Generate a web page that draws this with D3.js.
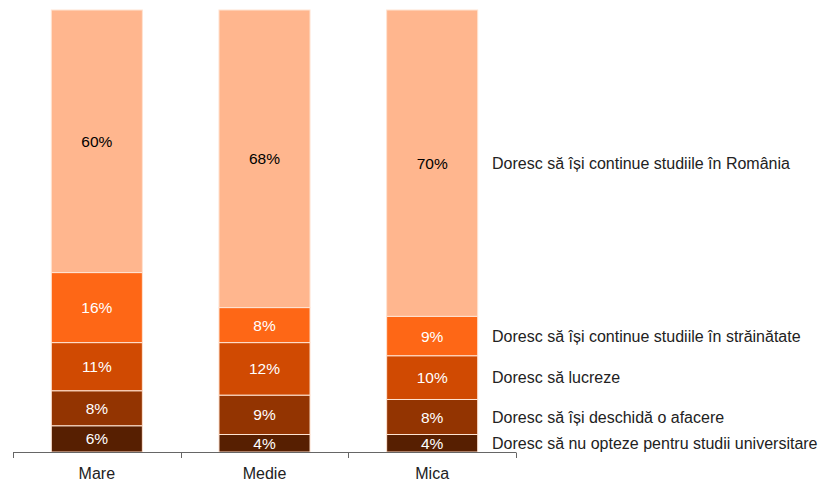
<!DOCTYPE html>
<html>
<head>
<meta charset="utf-8">
<script src="https://cdn.jsdelivr.net/npm/d3@7"></script>
<style>
  body { margin: 0; background: #fff; }
  text { font-family: "Liberation Sans", Arial, sans-serif; }
</style>
</head>
<body>
<div id="chart"></div>
<script>
// categories (x axis)
var categories = ['Mare', 'Medie', 'Mica'];
// series, bottom to top
var seriesNames = [
	'Doresc să nu opteze pentru studii universitare',
	'Doresc să își deschidă o afacere',
	'Doresc să lucreze',
	'Doresc să își continue studiile în străinătate',
	'Doresc să își continue studiile în România'
];
var noStudies  = [6, 4, 4];
var business   = [8, 9, 8];
var work       = [11, 12, 10];
var abroad     = [16, 8, 9];
var romania    = [60, 68, 70];
var colors = ['#571F01', '#933401', '#D04A02', '#FE6716', '#FFB68E'];
var labelColors = ['#fff', '#fff', '#fff', '#fff', '#000'];

var w = 818, h = 481;
var plotLeft = 13, plotRight = 516, plotTop = 10, plotBottom = 452;

var rows = categories.map(function(c, i) {
	return { cat: c, s0: noStudies[i], s1: business[i], s2: work[i], s3: abroad[i], s4: romania[i] };
});
var keys = ['s0', 's1', 's2', 's3', 's4'];

var stack = d3.stack().keys(keys).offset(d3.stackOffsetExpand);
var layers = stack(rows);

var x = d3.scaleBand()
	.domain(categories)
	.range([plotLeft, plotRight])
	.paddingInner(0.457)
	.paddingOuter(0.2285);
var y = d3.scaleLinear().domain([0, 1]).range([plotBottom, plotTop]);

var svg = d3.select('#chart').append('svg')
	.attr('width', w)
	.attr('height', h);

var groups = svg.selectAll('.layer')
	.data(layers)
	.enter()
	.append('g')
	.attr('class', 'layer')
	.attr('fill', function(d, i) { return colors[i]; });

groups.selectAll('rect')
	.data(function(d) { return d; })
	.enter()
	.append('rect')
	.attr('x', function(d) { return x(d.data.cat); })
	.attr('width', x.bandwidth())
	.attr('y', function(d) { return y(d[1]); })
	.attr('height', function(d) { return y(d[0]) - y(d[1]); })
	.attr('stroke', '#FFE3D2')
	.attr('stroke-width', 1);

groups.each(function(layer, li) {
	d3.select(this).selectAll('.val')
		.data(layer)
		.enter()
		.append('text')
		.attr('class', 'val')
		.attr('x', function(d) { return x(d.data.cat) + x.bandwidth() / 2; })
		.attr('y', function(d) { return (y(d[0]) + y(d[1])) / 2; })
		.attr('dy', '0.36em')
		.attr('text-anchor', 'middle')
		.attr('fill', labelColors[li])
		.style('font-size', '15.5px')
		.text(function(d) { return d.data[layer.key] + '%'; });
});

// legend labels next to the last bar
var lastCat = categories[categories.length - 1];
svg.selectAll('.legend')
	.data(layers)
	.enter()
	.append('text')
	.attr('class', 'legend')
	.attr('x', 492)
	.attr('y', function(d) {
		var p = d.find(function(e) { return e.data.cat === lastCat; });
		return (y(p[0]) + y(p[1])) / 2;
	})
	.attr('dy', '0.36em')
	.attr('fill', '#222')
	.style('font-size', '16px')
	.text(function(d, i) { return seriesNames[i]; });

// x axis
var axis = svg.append('g')
	.attr('transform', 'translate(0,' + plotBottom + ')');
axis.append('line')
	.attr('x1', plotLeft).attr('x2', plotRight)
	.attr('y1', 0.5).attr('y2', 0.5)
	.attr('stroke', '#666');
var step = x.step();
var tickXs = d3.range(categories.length + 1).map(function(i) { return plotLeft + i * step; });
axis.selectAll('.tk')
	.data(tickXs)
	.enter()
	.append('line')
	.attr('x1', function(d) { return Math.round(d) + 0.5; })
	.attr('x2', function(d) { return Math.round(d) + 0.5; })
	.attr('y1', 0.5).attr('y2', 6)
	.attr('stroke', '#666');
axis.selectAll('.cat')
	.data(categories)
	.enter()
	.append('text')
	.attr('x', function(d) { return x(d) + x.bandwidth() / 2; })
	.attr('y', 27)
	.attr('text-anchor', 'middle')
	.attr('fill', '#222')
	.style('font-size', '16px')
	.text(function(d) { return d; });
</script>
</body>
</html>
